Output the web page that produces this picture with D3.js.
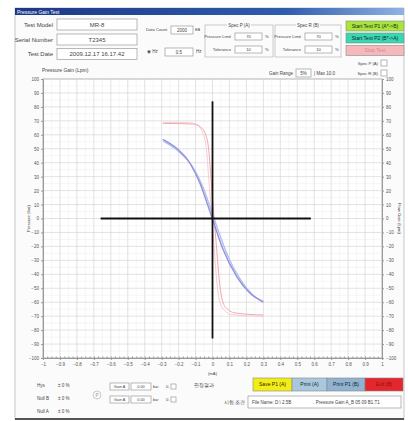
<!DOCTYPE html>
<html>
<head>
<meta charset="utf-8">
<script src="https://cdn.jsdelivr.net/npm/d3@7"></script>
<style>
  body { margin: 0; background: #fff; }
  text { font-family: "Liberation Sans", "DejaVu Sans", sans-serif; fill: #444; }
</style>
</head>
<body>
<svg id="chart"></svg>
<script>
// tick values
const xTickValues = [-1, -0.9, -0.8, -0.7, -0.6, -0.5, -0.4, -0.3, -0.2, -0.1, 0, 0.1, 0.2, 0.3, 0.4, 0.5, 0.6, 0.7, 0.8, 0.9, 1];
const yTickValues = [-100, -90, -80, -70, -60, -50, -40, -30, -20, -10, 0, 10, 20, 30, 40, 50, 60, 70, 80, 90, 100];

// measured curves, [input, pressure gain]
const redA = [[-0.294, 68.2], [-0.113, 67.7], [-0.07, 65.5], [-0.04, 60.0], [-0.022, 49.1], [-0.007, 25.4], [0.009, 1.3], [0.025, -22.6], [0.044, -48.9], [0.074, -63.2], [0.133, -67.7], [0.30, -69.2]];
const redB = [[-0.29, 69.0], [-0.13, 68.6], [-0.085, 66.5], [-0.055, 60.5], [-0.036, 50.0], [-0.02, 25.0], [-0.004, 1.0], [0.012, -25.0], [0.03, -50.5], [0.058, -64.0], [0.115, -69.0], [0.30, -70.2]];
const blueA = [[-0.294, 56.8], [-0.211, 50.3], [-0.133, 39.6], [-0.074, 25.2], [-0.025, 8.5], [0.015, -5.9], [0.064, -22.6], [0.143, -41.7], [0.221, -53.6], [0.30, -59.6]];
const blueB = [[-0.29, 55.5], [-0.205, 48.6], [-0.12, 37.5], [-0.058, 23.0], [-0.008, 6.0], [0.032, -8.0], [0.082, -24.5], [0.16, -43.0], [0.235, -54.5], [0.30, -60.3]];

// crosshair extents
const crossX = [-0.66, 0.58];
const crossY = [-86, 84];

const width = 408, height = 421;
const svg = d3.select("#chart").attr("width", width).attr("height", height);

// ---------- window frame ----------
svg.append("rect").attr("x", 15).attr("y", 8).attr("width", 389).attr("height", 411)
    .attr("fill", "#fbfbfb").attr("stroke", "#b8b8b8").attr("stroke-width", 0.8);
svg.append("line").attr("x1", 15).attr("x2", 404).attr("y1", 419).attr("y2", 419)
    .attr("stroke", "#555").attr("stroke-width", 2);

const defs = svg.append("defs");
const grad = defs.append("linearGradient").attr("id", "titlebar");
grad.append("stop").attr("offset", "0%").attr("stop-color", "#1b3885");
grad.append("stop").attr("offset", "70%").attr("stop-color", "#2f5cae");
grad.append("stop").attr("offset", "100%").attr("stop-color", "#8fb3e3");
svg.append("rect").attr("x", 15).attr("y", 8).attr("width", 389).attr("height", 7).attr("fill", "url(#titlebar)");
svg.append("text").attr("x", 17).attr("y", 13.5).style("font-size", "5px").style("fill", "#fff").text("Pressure Gain Test");

function label(x, y, t, size, anchor, color) {
    return svg.append("text").attr("x", x).attr("y", y).attr("text-anchor", anchor || "start")
        .style("font-size", (size || 5) + "px").style("fill", color || "#444").text(t);
}
function box(x, y, w, h, t, size) {
    svg.append("rect").attr("x", x).attr("y", y).attr("width", w).attr("height", h)
        .attr("fill", "#fff").attr("stroke", "#9a9a9a").attr("stroke-width", 0.7);
    if (t) label(x + w / 2, y + h / 2 + (size || 5) * 0.35, t, size || 5, "middle");
}
function button(x, y, w, h, fill, t, color) {
    svg.append("rect").attr("x", x).attr("y", y).attr("width", w).attr("height", h)
        .attr("fill", fill).attr("stroke", "#888").attr("stroke-width", 0.6);
    label(x + w / 2, y + h / 2 + 1.8, t, 5, "middle", color || "#222");
}

// ---------- header info ----------
label(53, 27, "Test Model", 6, "end");
label(53, 41.5, "Serial Number", 6, "end");
label(53, 56, "Test Date", 6, "end");
box(57, 19, 80, 11, "MR-8", 6);
box(57, 34, 80, 11, "T2345", 6);
box(57, 48.5, 80, 11, "2009.12.17 16.17.42", 6);

label(146, 31, "Data Count", 4.2);
box(171, 26, 22, 8, "2000", 4.5);
label(195, 31, "ea", 4.5);
label(147, 52.5, "◉ Hz", 4.5);
box(165, 48, 28, 8, "0.5", 4.5);
label(196, 52.5, "Hz", 4.5);

function group(x, w, title) {
    svg.append("rect").attr("x", x).attr("y", 25).attr("width", w).attr("height", 32)
        .attr("fill", "none").attr("stroke", "#aaa").attr("stroke-width", 0.6);
    svg.append("rect").attr("x", x + w / 2 - 12).attr("y", 22).attr("width", 24).attr("height", 5).attr("fill", "#fbfbfb");
    label(x + w / 2, 26.5, title, 4.5, "middle");
    label(x + 26, 38, "Pressure Limit", 4.2, "end");
    box(x + 30, 33, 27, 7, "70", 4.2);
    label(x + 60, 38, "%", 4.2);
    label(x + 26, 50.5, "Tolerance", 4.2, "end");
    box(x + 30, 46, 27, 7, "10", 4.2);
    label(x + 60, 50.5, "%", 4.2);
}
group(205, 68, "Spec P (A)");
group(275, 66, "Spec R (B)");

button(346, 21, 58, 10, "#a8e63c", "Start Test P1 (A*->B)", "#123");
button(346, 33, 58, 10, "#38d8b0", "Start Test P2 (B*->A)", "#123");
button(346, 45.5, 58, 10, "#f5b9bb", "Stop Test", "#d88");

// ---------- chart controls ----------
label(42, 72, "Pressure Gain (Lpm)", 5);
label(293, 75, "Gain Range", 4.5, "end");
box(296, 69, 15, 8, "5%", 4.5);
label(314, 75, "| Max 10.0", 4.5);
label(378, 65, "Spec P (A)", 4.2, "end");
label(378, 75, "Spec R (B)", 4.2, "end");
box(381, 60, 6, 6);
box(381, 70, 6, 6);

// ---------- plot ----------
const x = d3.scaleLinear().domain([-1, 1]).range([43, 382]);
const y = d3.scaleLinear().domain([-100, 100]).range([358, 79]);

const plot = svg.append("g");
plot.append("rect").attr("x", x(-1)).attr("y", y(100)).attr("width", x(1) - x(-1)).attr("height", y(-100) - y(100))
    .attr("fill", "#fff").attr("stroke", "#999").attr("stroke-width", 0.7);

const yMinor = d3.range(-95, 100, 10);
const xMinor = d3.range(-0.95, 1, 0.1);
plot.selectAll(".gy2").data(yMinor).enter().append("line")
    .attr("x1", x(-1)).attr("x2", x(1)).attr("y1", d => y(d)).attr("y2", d => y(d))
    .attr("stroke", "#eeeeee").attr("stroke-width", 0.6);
plot.selectAll(".gx2").data(xMinor).enter().append("line")
    .attr("y1", y(-100)).attr("y2", y(100)).attr("x1", d => x(d)).attr("x2", d => x(d))
    .attr("stroke", "#f0f0f0").attr("stroke-width", 0.6);
plot.selectAll(".gy").data(yTickValues).enter().append("line")
    .attr("x1", x(-1)).attr("x2", x(1)).attr("y1", d => y(d)).attr("y2", d => y(d))
    .attr("stroke", "#d6d6d6").attr("stroke-width", 0.7);
plot.selectAll(".gx").data(xTickValues).enter().append("line")
    .attr("y1", y(-100)).attr("y2", y(100)).attr("x1", d => x(d)).attr("x2", d => x(d))
    .attr("stroke", "#d6d6d6").attr("stroke-width", 0.7);

// axes
const fmtX = d => d === 0 ? "0" : d3.format(".1f")(d).replace(/\.0$/, "");
const axL = svg.append("g").attr("transform", `translate(${x(-1)},0)`)
    .call(d3.axisLeft(y).tickValues(yTickValues).tickSize(2).tickPadding(2));
const axR = svg.append("g").attr("transform", `translate(${x(1)},0)`)
    .call(d3.axisRight(y).tickValues(yTickValues).tickSize(2).tickPadding(2));
const axB = svg.append("g").attr("transform", `translate(0,${y(-100)})`)
    .call(d3.axisBottom(x).tickValues(xTickValues).tickFormat(fmtX).tickSize(2).tickPadding(3));
svg.append("g").attr("transform", `translate(0,${y(-100)})`)
    .call(d3.axisTop(x).tickValues(d3.range(-1, 1.001, 0.025)).tickFormat("").tickSize(1.5))
    .call(g => g.select(".domain").remove())
    .selectAll("line").attr("stroke", "#999");
[axL, axR, axB].forEach(g => {
    g.select(".domain").attr("stroke", "#999");
    g.selectAll(".tick line").attr("stroke", "#999");
    g.selectAll("text").style("font-size", "4.5px").style("fill", "#555")
        .style("font-family", "Liberation Sans, sans-serif");
});

svg.append("text").attr("transform", `translate(30,${y(0)}) rotate(-90)`).attr("text-anchor", "middle")
    .style("font-size", "4.2px").text("Pressure (bar)");
svg.append("text").attr("transform", `translate(398,${y(0)}) rotate(90)`).attr("text-anchor", "middle")
    .style("font-size", "4.2px").text("Flow Gain (Lpm)");
label(x(0), 375, "(mA)", 4.2, "middle");

// curves
const line = d3.line().x(d => x(d[0])).y(d => y(d[1])).curve(d3.curveMonotoneX);
plot.append("path").datum(redB).attr("d", line).attr("fill", "none").attr("stroke", "#f7ccd2").attr("stroke-width", 1);
plot.append("path").datum(redA).attr("d", line).attr("fill", "none").attr("stroke", "#f0a8b2").attr("stroke-width", 1);
plot.append("path").datum(blueB).attr("d", line).attr("fill", "none").attr("stroke", "#b8bcee").attr("stroke-width", 1.4);
plot.append("path").datum(blueA).attr("d", line).attr("fill", "none").attr("stroke", "#8f93dc").attr("stroke-width", 1.4);

// crosshair
plot.append("line").attr("x1", x(crossX[0])).attr("x2", x(crossX[1])).attr("y1", y(0)).attr("y2", y(0))
    .attr("stroke", "#111").attr("stroke-width", 1.8);
plot.append("line").attr("x1", x(0)).attr("x2", x(0)).attr("y1", y(crossY[0])).attr("y2", y(crossY[1]))
    .attr("stroke", "#111").attr("stroke-width", 1.8);

// ---------- bottom panel ----------
label(37, 387, "Hys", 4.5);
label(37, 400, "Null B", 4.5);
label(37, 413, "Null A", 4.5);
label(58, 387, "± 0 %", 4.5);
label(58, 400, "± 0 %", 4.5);
label(58, 413, "± 0 %", 4.5);
svg.append("circle").attr("cx", 97).attr("cy", 395).attr("r", 4).attr("fill", "none").attr("stroke", "#aaa").attr("stroke-width", 0.6);
label(97, 396.8, "P", 4.5, "middle", "#999");
[383, 396].forEach(yy => {
    box(110, yy, 19, 7, "Gain A", 3.8);
    box(131, yy, 20, 7, "0.00", 3.8);
    label(153, yy + 5, "bar", 3.8);
    label(166, yy + 5, "0.", 4.2);
    box(171, yy + 1, 5, 5);
});

label(214, 387, "판정결과", 4.8, "end");
button(253, 378, 39, 13, "#f2ee14", "Save P1 (A)");
button(292, 378, 35, 13, "#a9c8de", "Print (A)");
button(327, 378, 38, 13, "#8fb3d1", "Print P1 (B)");
button(365, 378, 38, 13, "#e4272c", "Exit (B)", "#8a1010");
label(245, 404, "시험 조건", 4.5, "end");
box(248, 396, 153, 12);
label(252, 403.5, "File Name: D:\\ 2.5B", 4.5);
label(310, 403.5, "→ Pressure Gain A_B 05 09 B1.T1", 4.5);
</script>
</body>
</html>
